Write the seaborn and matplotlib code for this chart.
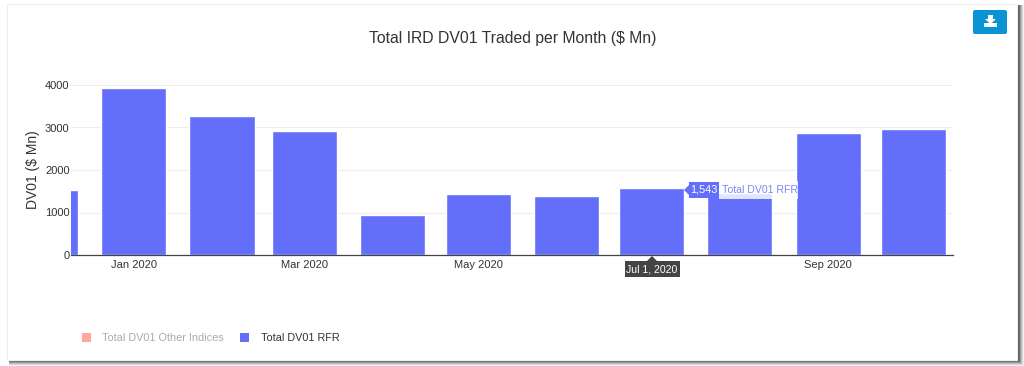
import datetime as dt
import matplotlib
matplotlib.use("Agg")
import matplotlib.pyplot as plt
from matplotlib.patches import Rectangle, FancyBboxPatch, Polygon
import seaborn as sns
import pandas as pd

months = ["2019-12-01", "2020-01-01", "2020-02-01", "2020-03-01", "2020-04-01", "2020-05-01",
          "2020-06-01", "2020-07-01", "2020-08-01", "2020-09-01", "2020-10-01"]
rfr_values = [1530, 3930, 3265, 2925, 945, 1440, 1390, 1565, 1470, 2865, 2970]
tick_months = ["2020-01-01", "2020-03-01", "2020-05-01", "2020-07-01", "2020-09-01"]
tick_labels = ["Jan 2020", "Mar 2020", "May 2020", "", "Sep 2020"]
y_ticks = [0, 1000, 2000, 3000, 4000]

W, H = 1024, 366
BLUE = "#636efa"
sns.set_theme(style="white")
plt.rcParams["font.family"] = ["Liberation Sans", "DejaVu Sans"]

origin = dt.date(2020, 1, 1)
def day(s):
    return (dt.date.fromisoformat(s) - origin).days

df = pd.DataFrame({"day": [day(m) for m in months], "value": rfr_values})

fig = plt.figure(figsize=(W / 100, H / 100), dpi=100, facecolor="white")

def fx(p): return p / W
def fy(p): return 1 - p / H
def box(x0, y0, x1, y1, **kw):
    """Rectangle given in picture pixels, top-left origin."""
    kw.setdefault("lw", 0)
    fig.patches.append(Rectangle((fx(x0), fy(y1)), (x1 - x0) / W, (y1 - y0) / H,
                                 transform=fig.transFigure, **kw))
def poly(pts, **kw):
    fig.patches.append(Polygon([(fx(a), fy(b)) for a, b in pts], transform=fig.transFigure, lw=0, **kw))

# card and its soft shadow
for ext, shade in [(7, "#f0f0f0"), (6, "#d8d8d8"), (5, "#bbbbbb"), (4, "#999999"), (3, "#707070"), (2, "#555555")]:
    box(9, 5, 1017 + ext, 359 + ext, color=shade, zorder=-4)
box(7, 4, 1017, 360, facecolor="white", edgecolor="#eeeeee", lw=0.8, zorder=-3)

ax = fig.add_axes([fx(71), fy(255), (953 - 71) / W, 170 / H])
ax.set_facecolor("none")
sns.barplot(data=df, x="day", y="value", native_scale=True, width=0.79, color=BLUE,
            saturation=1, ax=ax, zorder=3)
ax.set_xlim(-22.1, 287.9)
ax.set_ylim(0, 4000)
ax.set_xticks([day(m) for m in tick_months], tick_labels)
ax.set_yticks(y_ticks)
ax.tick_params(axis="both", length=0, labelsize=8, labelcolor="#333333")
ax.tick_params(axis="x", pad=3.3)
ax.tick_params(axis="y", pad=1)
ax.grid(axis="y", color="#eeeeee", lw=0.8, zorder=0)
ax.set_axisbelow(True)
for s in ("top", "right", "left"):
    ax.spines[s].set_visible(False)
ax.spines["bottom"].set_color("#444444")
ax.spines["bottom"].set_linewidth(0.9)
ax.spines["bottom"].set_zorder(5)
ax.set_xlabel("")
ax.set_ylabel("DV01 ($ Mn)", fontsize=10, color="#333333")
ax.yaxis.set_label_coords((40 - 71) / (953 - 71), 0.5)

fig.text(fx(512.5), fy(38.5), "Total IRD DV01 Traded per Month ($ Mn)", ha="center", va="center",
         fontsize=11.3, color="#333333")

# legend
box(82, 333, 91, 342, color="#ffa79c", zorder=2)
fig.text(fx(102), fy(338), "Total DV01 Other Indices", va="center", fontsize=7.8, color="#aaaaaa")
box(240, 333, 249, 342, color=BLUE, zorder=2)
fig.text(fx(261), fy(338), "Total DV01 RFR", va="center", fontsize=7.8, color="#333333")

# hover labels
box(719, 181, 798, 199, color="white", alpha=0.82, zorder=6)
box(689, 182, 719, 198, color=BLUE, zorder=6)
poly([(684, 190), (689, 185), (689, 195)], color=BLUE, zorder=6)
fig.text(fx(704), fy(190), "1,543", ha="center", va="center", fontsize=7.8, color="white", zorder=7)
fig.text(fx(722), fy(190), "Total DV01 RFR", va="center", fontsize=7.6, color="#7d87fb", zorder=7)
box(625, 261, 680, 277, color="#444444", zorder=6)
poly([(646, 262), (652, 256), (658, 262)], color="#444444", zorder=6)
fig.text(fx(652), fy(269), "Jul 1, 2020", ha="center", va="center", fontsize=7.6, color="white", zorder=7)

# download button
fig.patches.append(FancyBboxPatch((fx(973), fy(34)), 34 / W, 24 / H, transform=fig.transFigure,
                                  boxstyle="round,pad=0,rounding_size=0.002", mutation_aspect=W / H,
                                  color="#0a94d6", lw=0, zorder=6))
poly([(988, 15), (993, 15), (993, 19), (996, 19), (990.5, 24), (985, 19), (988, 19)], color="white", zorder=7)
box(984, 23, 997, 27, color="white", zorder=7)

fig.savefig("out.png", dpi=100)
